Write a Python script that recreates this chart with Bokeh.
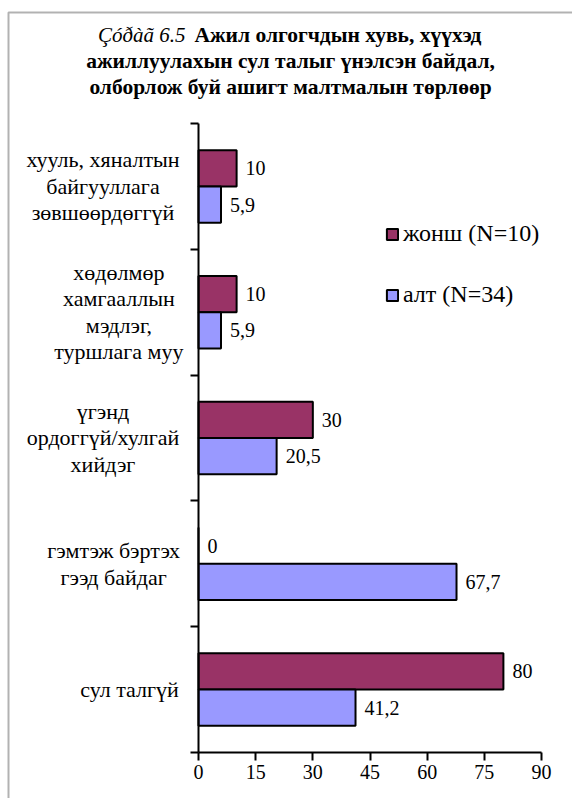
from bokeh.plotting import figure
from bokeh.models import (ColumnDataSource, Range1d, FixedTicker, LabelSet, Label,
                          Legend, LegendItem, BoxAnnotation, LinearAxis)
from bokeh.embed import file_html
from bokeh.resources import INLINE

# ---- data (top to bottom, as in the chart) ----
categories = [
    "хууль, хяналтын\nбайгууллага\nзөвшөөрдөггүй",
    "хөдөлмөр\nхамгааллын\nмэдлэг,\nтуршлага муу",
    "үгэнд\nордоггүй/хулгай\nхийдэг",
    "гэмтэж бэртэх\nгээд байдаг",
    "сул талгүй",
]
zhonsh = [10, 10, 30, 0, 80]          # жонш (N=10)
alt = [5.9, 5.9, 20.5, 67.7, 41.2]    # алт (N=34)
series_names = ["жонш (N=10)", "алт (N=34)"]
x_ticks = [0, 15, 30, 45, 60, 75, 90]
title_italic = "Çóðàã 6.5"
title_lines = ["Ажил олгогчдын хувь, хүүхэд",
               "ажиллуулахын сул талыг үнэлсэн байдал,",
               "олборлож буй ашигт малтмалын төрлөөр"]

FONT = "Liberation Serif"
MAROON = "#993366"
LAVENDER = "#9999FF"
W, H = 572, 798
LINE_H = 26.5


def fmt(v):
    return ("%g" % v).replace(".", ",")


n = len(categories)
ypos = [n - 0.5 - i for i in range(n)]
off = 0.144

src = ColumnDataSource(dict(
    y_zh=[y + off for y in ypos],
    y_alt=[y - off for y in ypos],
    zh=zhonsh,
    alt=alt,
    zh_lbl=[fmt(v) for v in zhonsh],
    alt_lbl=[fmt(v) for v in alt],
))

# category labels: one row per text line, each line centred in its block
l_txt, l_y, l_xoff, l_yoff = [], [], [], []
for c, y in zip(categories, ypos):
    parts = c.split("\n")
    k = len(parts)
    w = max(len(s) for s in parts)
    for j, s in enumerate(parts):
        l_txt.append(s)
        l_y.append(y)
        l_xoff.append(-(16 + w * 10.6 / 2))
        l_yoff.append(((k - 1) / 2 - j) * LINE_H)
cat_src = ColumnDataSource(dict(txt=l_txt, y=l_y, xoff=l_xoff, yoff=l_yoff))

# the plot frame covers the whole canvas; axes are placed at x=0 / y=0
p = figure(width=W, height=H, output_backend="svg", toolbar_location=None,
           x_range=Range1d(-51.95, 98.13), y_range=Range1d(-0.366, 5.978),
           title=None, x_axis_location=None, y_axis_location=None,
           min_border=0, min_border_left=0, min_border_right=0,
           min_border_top=0, min_border_bottom=0)
p.background_fill_color = "white"
p.border_fill_color = "white"
p.outline_line_color = None
p.xgrid.visible = False
p.ygrid.visible = False

r1 = p.hbar(y="y_zh", right="zh", left=0, height=0.288, source=src,
            fill_color=MAROON, line_color="black", line_width=2)
r2 = p.hbar(y="y_alt", right="alt", left=0, height=0.288, source=src,
            fill_color=LAVENDER, line_color="black", line_width=2)

# axes
xa = LinearAxis(fixed_location=0, bounds=(0, 90), ticker=FixedTicker(ticks=x_ticks))
xa.axis_line_width = 2
xa.axis_line_color = "black"
xa.major_tick_line_width = 2
xa.major_tick_in = 0
xa.major_tick_out = 8
xa.minor_tick_line_color = None
xa.major_label_text_font = FONT
xa.major_label_text_font_size = "20px"
xa.major_label_text_color = "black"
xa.major_label_standoff = 5
p.add_layout(xa, "below")

ya = LinearAxis(fixed_location=0, bounds=(0, n), ticker=FixedTicker(ticks=list(range(n + 1))))
ya.axis_line_width = 2
ya.axis_line_color = "black"
ya.major_tick_line_width = 2
ya.major_tick_in = 0
ya.major_tick_out = 8
ya.minor_tick_line_color = None
ya.major_label_text_font_size = "0px"
ya.major_label_text_alpha = 0
p.add_layout(ya, "left")

# value labels
for xf, yf, tf in (("zh", "y_zh", "zh_lbl"), ("alt", "y_alt", "alt_lbl")):
    p.add_layout(LabelSet(x=xf, y=yf, text=tf, source=src, x_offset=9,
                          text_baseline="middle", text_align="left",
                          text_font=FONT, text_font_size="20px", text_color="black"))

# category labels
p.add_layout(LabelSet(x=0, y="y", text="txt", source=cat_src,
                      x_offset="xoff", y_offset="yoff",
                      text_align="center", text_baseline="middle",
                      text_font=FONT, text_font_size="22px", text_color="black"))

# legend
legend = Legend(items=[LegendItem(label=series_names[0], renderers=[r1]),
                       LegendItem(label=series_names[1], renderers=[r2])],
                location=(385, 490), padding=0, margin=0, spacing=34,
                glyph_width=14, glyph_height=14, label_standoff=4,
                label_text_font=FONT, label_text_font_size="24px",
                label_text_color="black", border_line_color=None,
                background_fill_alpha=0)
p.add_layout(legend)

# title (screen units, y measured from the bottom)
p.add_layout(Label(x=185, y=764, x_units="screen", y_units="screen",
                   text=title_italic, text_align="right", text_baseline="alphabetic",
                   text_font=FONT, text_font_size="21px", text_font_style="italic",
                   text_color="black"))
p.add_layout(Label(x=194, y=764, x_units="screen", y_units="screen",
                   text=title_lines[0], text_align="left", text_baseline="alphabetic",
                   text_font=FONT, text_font_size="21.5px", text_font_style="bold",
                   text_color="black"))
for i, line in enumerate(title_lines[1:]):
    p.add_layout(Label(x=290, y=738 - 26 * i, x_units="screen", y_units="screen",
                       text=line, text_align="center", text_baseline="alphabetic",
                       text_font=FONT, text_font_size="21.5px", text_font_style="bold",
                       text_color="black"))

# chart area frame (left and top edges visible; the rest is cut off)
p.add_layout(BoxAnnotation(left=8, right=3000, top=786, bottom=-3000,
                           left_units="screen", right_units="screen",
                           top_units="screen", bottom_units="screen",
                           fill_alpha=0, line_color="black", line_width=2,
                           level="overlay"))

open("out.html", "w").write(file_html(p, INLINE))
